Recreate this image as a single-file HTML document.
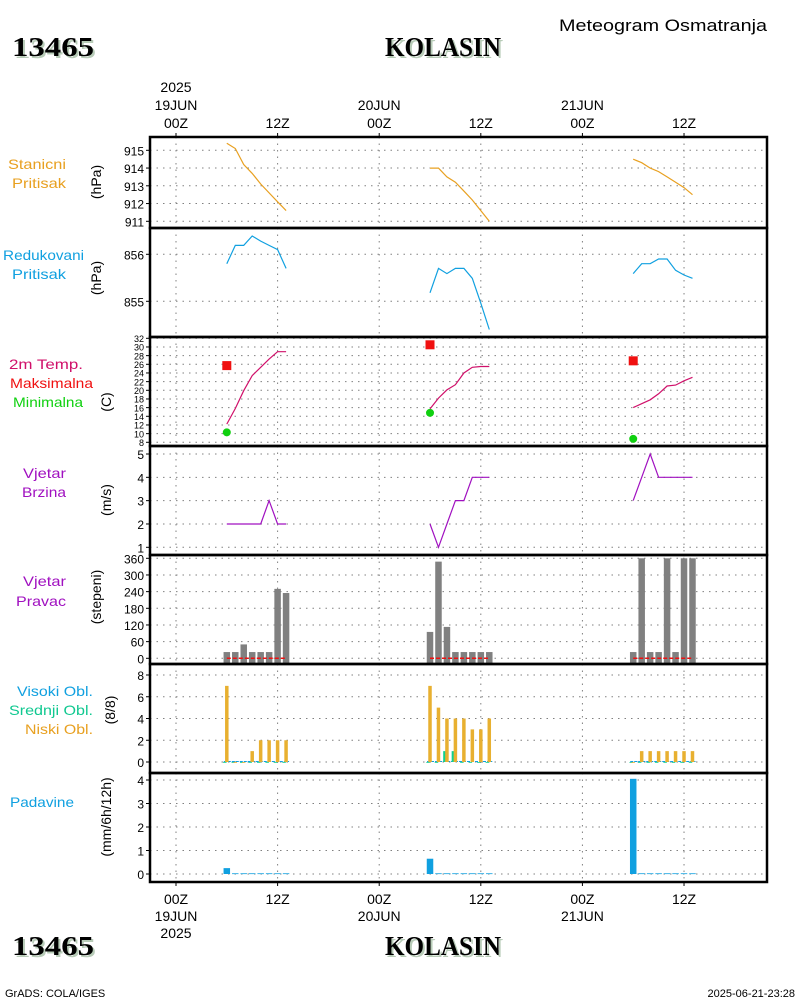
<!DOCTYPE html>
<html><head><meta charset="utf-8"><style>
html,body{margin:0;padding:0;background:#fff;width:800px;height:1000px;overflow:hidden}
svg{display:block}
text{font-family:"Liberation Sans",sans-serif}
</style></head><body>
<svg id="chart" width="800" height="1000" viewBox="0 0 800 1000" xmlns="http://www.w3.org/2000/svg"></svg>
<script>
// ---- data (hours since 19JUN 00Z) ----
const hours1 = [6,7,8,9,10,11,12,13];
const hours2 = [30,31,32,33,34,35,36,37];
const hours3 = [54,55,56,57,58,59,60,61];
const stationP1 = [915.4,915.1,914.2,913.7,913.1,912.6,912.1,911.6];
const stationP2 = [914.0,914.0,913.5,913.2,912.7,912.2,911.6,911.0];
const stationP3 = [914.5,914.3,914.0,913.8,913.5,913.2,912.9,912.5];
const redP1 = [855.80,856.19,856.19,856.39,856.28,856.19,856.10,855.70];
const redP2 = [855.18,855.70,855.59,855.70,855.70,855.49,854.96,854.40];
const redP3 = [855.59,855.80,855.80,855.90,855.90,855.66,855.56,855.49];
const temp1 = [12.2,15.8,19.9,23.4,25.3,27.2,28.9,28.9];
const temp2 = [15.7,18.2,20.1,21.3,24.0,25.3,25.5,25.5];
const temp3 = [16.0,16.9,17.8,19.2,21.0,21.2,22.2,23.0];
const maxHours = [6,30,54];
const tMax = [25.7,30.5,26.8];
const tMin = [10.3,14.8,8.8];
const wind1 = [2,2,2,2,2,3,2,2];
const wind2 = [2,1,2,3,3,4,4,4];
const wind3 = [3,4,5,4,4,4,4,4];
const dir1 = [22.5,22.5,50,22.5,22.5,22.5,250,235];
const dir2 = [95,348,113,22.5,22.5,22.5,22.5,22.5];
const dir3 = [22.5,360,22.5,22.5,360,22.5,360,360];
const low1 = [7,0,0,1,2,2,2,2];
const low2 = [7,5,4,4,4,3,3,4];
const low3 = [0,1,1,1,1,1,1,1];
const mid1 = [0,0,0,0,0,0,0,0];
const mid2 = [0,0,1,1,0,0,0,0];
const mid3 = [0,0,0,0,0,0,0,0];
const rain1 = [0.25,0.03,0.03,0.03,0.03,0.03,0.03,0.03];
const rain2 = [0.65,0.03,0.03,0.03,0.03,0.03,0.03,0.03];
const rain3 = [4.05,0.03,0.03,0.03,0.03,0.03,0.03,0.03];
const tickHours = [0,12,24,36,48,60];
const tickLabels = ["00Z","12Z","00Z","12Z","00Z","12Z"];
const dayLabels = {0:["19JUN","2025"],24:["20JUN"],48:["21JUN"]};
const pTicks = [911,912,913,914,915];
const rTicks = [855,856];
const tTicks = [8,10,12,14,16,18,20,22,24,26,28,30,32];
const wTicks = [1,2,3,4,5];
const dTicks = [0,60,120,180,240,300,360];
const cTicks = [0,2,4,6,8];
const rainTicks = [0,1,2,3,4];

const NS="http://www.w3.org/2000/svg";
const svg=document.getElementById('chart');
function el(tag,attrs,parent){const e=document.createElementNS(NS,tag);for(const k in attrs)e.setAttribute(k,attrs[k]);(parent||svg).appendChild(e);return e;}
const L=150,R=767;
const x=h=>176+h*8.467;
function lin(v0,y0,v1,y1){return v=>y0+(v-v0)*(y1-y0)/(v1-v0);}

// label: [text,color,xStart,xEnd,baselineY]
const panels=[
 {top:137,bot:228,name:'station-pressure',y:lin(911,221.3,915,150.3),ticks:pTicks,unit:'(hPa)',fs:12,ux:96,uy:182,
  labels:[['Stanicni','#e8a020',8,66,169],['Pritisak','#e8a020',12,66,188]]},
 {top:228,bot:337,name:'reduced-pressure',y:lin(855,301.3,856,254.3),ticks:rTicks,unit:'(hPa)',fs:12,ux:96,uy:278,
  labels:[['Redukovani','#10a0e0',3,84,260],['Pritisak','#10a0e0',12,66,279]]},
 {top:337,bot:446,name:'temperature',y:lin(8,442.3,32,338.3),ticks:tTicks,unit:'(C)',fs:9,ux:106,uy:402,
  labels:[['2m Temp.','#d0106a',9,83,369],['Maksimalna','#f01010',10,93,388],['Minimalna','#10d010',13,83,407]]},
 {top:446,bot:555,name:'wind-speed',y:lin(1,547.3,5,454),ticks:wTicks,unit:'(m/s)',fs:12,ux:106,uy:500,
  labels:[['Vjetar','#a010c0',23,66,478],['Brzina','#a010c0',22,66,497]]},
 {top:555,bot:664,name:'wind-direction',y:lin(0,658.3,360,558.3),ticks:dTicks,unit:'(stepeni)',fs:12,ux:96,uy:597,
  labels:[['Vjetar','#a010c0',23,66,586],['Pravac','#a010c0',16,66,606]]},
 {top:664,bot:773,name:'cloud-cover',y:lin(0,762,8,675),ticks:cTicks,unit:'(8/8)',fs:12,ux:110,uy:710,
  labels:[['Visoki Obl.','#10a0e0',17,93,696],['Srednji Obl.','#10c890',9,93,715],['Niski Obl.','#e8a020',25,93,734]]},
 {top:773,bot:882,name:'precipitation',y:lin(0,874,4,780),ticks:rainTicks,unit:'(mm/6h/12h)',fs:12,ux:106,uy:817,
  labels:[['Padavine','#10a0e0',10,74,807]]}
];

function txt(s,a,parent){const t=el('text',a,parent);t.textContent=s;return t;}

// headers
txt('Meteogram Osmatranja',{x:767,y:31,'text-anchor':'end','font-size':17,'textLength':208,'lengthAdjust':'spacingAndGlyphs',fill:'#000',});
[['13465',12,56,'station-id-top'],['KOLASIN',385,56,'station-name-top'],['13465',12,955,'station-id-bottom'],['KOLASIN',385,955,'station-name-bottom']].forEach(([s,xx,yy,n])=>{
  const w=s.length===5?82:116;
  txt(s,{x:xx+2,y:yy+2,'font-size':27,'font-weight':'bold',style:'font-family:"Liberation Serif",serif',fill:'#b8ccb8',textLength:w,lengthAdjust:'spacingAndGlyphs'});
  txt(s,{x:xx,y:yy,'font-size':27,'font-weight':'bold',style:'font-family:"Liberation Serif",serif',fill:'#000',textLength:w,lengthAdjust:'spacingAndGlyphs',});
});
txt('GrADS: COLA/IGES',{x:5,y:997,'font-size':11,fill:'#000',});
txt('2025-06-21-23:28',{x:795,y:997,'text-anchor':'end','font-size':11,fill:'#000',});

// time axis labels
tickHours.forEach((h,i)=>{
  txt(tickLabels[i],{x:x(h),y:128,'text-anchor':'middle','font-size':14,fill:'#000',});
  txt(tickLabels[i],{x:x(h),y:904,'text-anchor':'middle','font-size':14,fill:'#000',});
  el('line',{x1:x(h),x2:x(h),y1:133,y2:137,stroke:'#000'});
  el('line',{x1:x(h),x2:x(h),y1:882,y2:886,stroke:'#000'});
  if(dayLabels[h]){
    const d=dayLabels[h];
    txt(d[0],{x:x(h),y:110,'text-anchor':'middle','font-size':14,fill:'#000',});
    if(d[1])txt(d[1],{x:x(h),y:92,'text-anchor':'middle','font-size':14,fill:'#000',});
    txt(d[0],{x:x(h),y:921,'text-anchor':'middle','font-size':14,fill:'#000',});
    if(d[1])txt(d[1],{x:x(h),y:938,'text-anchor':'middle','font-size':14,fill:'#000',});
  }
});

panels.forEach(p=>{
  const g=el('g',{});
  
  
  p.ticks.forEach(v=>{
    const yy=p.y(v);
    el('line',{x1:L,x2:R,y1:yy,y2:yy,stroke:'#808080','stroke-dasharray':'1.5,5'},g);
    el('line',{x1:L-4,x2:L,y1:yy,y2:yy,stroke:'#000'},g);
    const t=txt(String(v),{x:L-6,y:yy+p.fs*0.42,'text-anchor':'end','font-size':p.fs,fill:'#000'},g);
    
    
  });
  tickHours.forEach(h=>el('line',{x1:x(h),x2:x(h),y1:p.top,y2:p.bot,stroke:'#808080','stroke-dasharray':'1.5,5'},g));
  const u=txt(p.unit,{x:0,y:0,transform:`translate(${p.ux+5},${p.uy}) rotate(-90)`,'text-anchor':'middle','font-size':14,fill:'#000'},g);
  
  
  p.labels.forEach(lb=>{
    const t=txt(lb[0],{x:lb[2],y:lb[4],'font-size':14,fill:lb[1],textLength:lb[3]-lb[2],lengthAdjust:'spacingAndGlyphs'},g);
    
    
  });
  p.g=g;
});

function line(p,hs,vals,color,name){
  const pts=hs.map((h,i)=>x(h).toFixed(1)+','+p.y(vals[i]).toFixed(1)).join(' ');
  const e=el('polyline',{points:pts,fill:'none',stroke:color,'stroke-width':1.2},p.g);
  
  
}
const P=panels;
[[hours1,stationP1],[hours2,stationP2],[hours3,stationP3]].forEach(([h,v])=>line(P[0],h,v,'#e8a020','station-pressure-line'));
[[hours1,redP1],[hours2,redP2],[hours3,redP3]].forEach(([h,v])=>line(P[1],h,v,'#10a0e0','reduced-pressure-line'));
[[hours1,temp1],[hours2,temp2],[hours3,temp3]].forEach(([h,v])=>line(P[2],h,v,'#d0106a','temperature-line'));
maxHours.forEach((h,i)=>{
  const r=el('rect',{x:x(h)-4.5,y:P[2].y(tMax[i])-4.5,width:9,height:9,fill:'#f01010'},P[2].g);
  
  
  const c=el('circle',{cx:x(h),cy:P[2].y(tMin[i]),r:4,fill:'#10d010'},P[2].g);
  
  
});
[[hours1,wind1],[hours2,wind2],[hours3,wind3]].forEach(([h,v])=>line(P[3],h,v,'#a010c0','wind-speed-line'));
function bars(p,hs,vals,color,w,off,name,baseY){
  hs.forEach((h,i)=>{
    const y0=p.y(vals[i]);const yb=baseY!==undefined?baseY:p.y(0);
    const r=el('rect',{x:x(h)+off-w/2,y:Math.min(y0,yb),width:w,height:Math.max(Math.abs(yb-y0),0.8),fill:color},p.g);
    
    
  });
}
[[hours1,dir1],[hours2,dir2],[hours3,dir3]].forEach(([h,v])=>{
  bars(P[4],h,v,'#808080',6.5,0,'wind-direction-bar',663);
  const e=el('line',{x1:x(h[0]),x2:x(h[h.length-1]),y1:P[4].y(0),y2:P[4].y(0),stroke:'#f01010','stroke-width':1.5,'stroke-dasharray':'4,2'},P[4].g);
  
  
});
[[hours1,low1,mid1],[hours2,low2,mid2],[hours3,low3,mid3]].forEach(([h,lo,mi])=>{
  el('line',{x1:x(h[0])-3,x2:x(h[h.length-1])+3,y1:P[5].y(0)-0.5,y2:P[5].y(0)-0.5,stroke:'#10a0e0','stroke-width':1,'stroke-dasharray':'3,1'},P[5].g);
  bars(P[5],h,mi,'#10d090',3.5,-2,'mid-cloud-bar');
  bars(P[5],h,lo,'#e8b030',3.5,0,'low-cloud-bar');
});
[[hours1,rain1],[hours2,rain2],[hours3,rain3]].forEach(([h,v])=>bars(P[6],h,v,'#10a0e0',6.5,0,'precip-bar'));

panels.forEach(p=>{
  const r=el('rect',{x:L,y:p.top,width:R-L,height:p.bot-p.top,fill:'none',stroke:'#000','stroke-width':2.5});
  
  
});
</script>
</body></html>
